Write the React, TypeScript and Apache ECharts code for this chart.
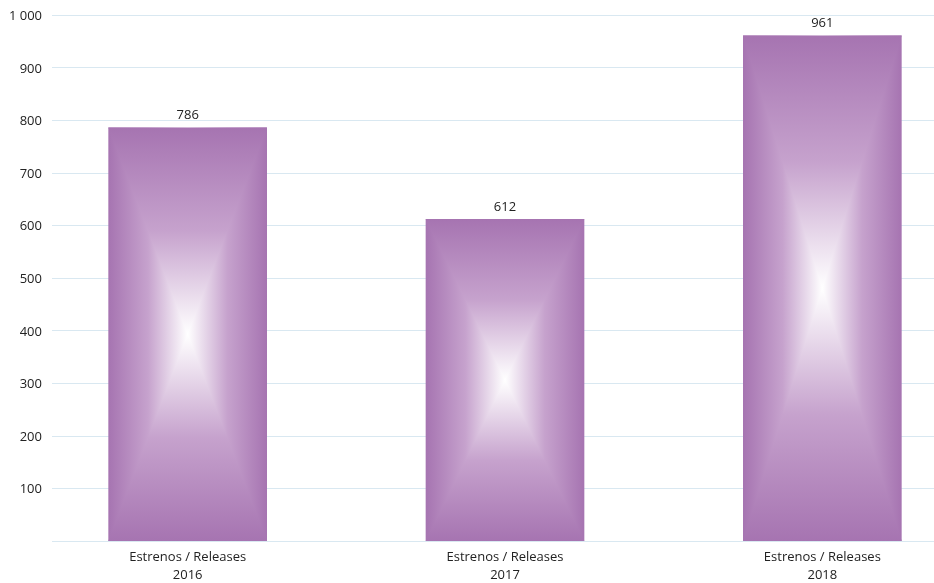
import React, { useEffect, useRef } from "react";
import * as echarts from "echarts";

const categories = ["Estrenos / Releases\n2016", "Estrenos / Releases\n2017", "Estrenos / Releases\n2018"];
const releases = [786, 612, 961];
const yTicks = [0, 100, 200, 300, 400, 500, 600, 700, 800, 900, 1000];

const EDGE = "#a674b1";
const MID = "#c6a2cd";
const CENTER = "#ffffff";

function grad(x2: number, y2: number, reverse: boolean) {
  const stops = reverse
    ? [
        { offset: 0, color: CENTER },
        { offset: 0.5, color: MID },
        { offset: 1, color: EDGE },
      ]
    : [
        { offset: 0, color: EDGE },
        { offset: 0.5, color: MID },
        { offset: 1, color: CENTER },
      ];
  return { type: "linear", x: 0, y: 0, x2, y2, colorStops: stops };
}

const horizGrad = {
  type: "linear",
  x: 0,
  y: 0,
  x2: 1,
  y2: 0,
  colorStops: [
    { offset: 0, color: EDGE },
    { offset: 0.25, color: MID },
    { offset: 0.5, color: CENTER },
    { offset: 0.75, color: MID },
    { offset: 1, color: EDGE },
  ],
};

export default function App() {
  const ref = useRef<HTMLDivElement>(null);
  useEffect(() => {
    document.body.style.margin = "0";
    const chart = echarts.init(ref.current!, null, { renderer: "svg" });
    const font = "'Open Sans', sans-serif";
    const option: any = {
      animation: false,
      grid: [
        { left: 52, right: 0, top: 15, bottom: 42, outerBoundsMode: "none", containLabel: false },
        { left: 29, width: 952, top: 15, bottom: 42, outerBoundsMode: "none", containLabel: false },
      ],
      xAxis: [
        { type: "category", gridIndex: 0, data: categories, show: false },
        {
          type: "category",
          gridIndex: 1,
          data: categories,
          axisLine: { show: false },
          axisTick: { show: false },
          axisLabel: {
            color: "#222",
            fontFamily: font,
            fontSize: 13,
            lineHeight: 18,
            margin: 6,
          },
        },
      ],
      yAxis: [
        {
          type: "value",
          gridIndex: 0,
          min: 0,
          max: 1000,
          interval: 100,
          axisLine: { show: false },
          axisTick: { show: false },
          splitLine: { lineStyle: { color: "#d9e8f1", width: 1 } },
          axisLabel: {
            color: "#222",
            fontFamily: font,
            fontSize: 13,
            margin: 10,
            formatter: (v: number) =>
              v === 0 ? "" : v >= 1000 ? String(v).replace(/\B(?=(\d{3})+(?!\d))/g, " ") : String(v),
          },
        },
        { type: "value", gridIndex: 1, min: 0, max: 1000, show: false },
      ],
      series: [
        {
          type: "custom",
          xAxisIndex: 1,
          yAxisIndex: 1,
          data: releases.map((v, i) => [i, v]),
          renderItem: (params: any, api: any) => {
            const idx = api.value(0);
            const val = api.value(1);
            const top = api.coord([idx, val]);
            const bot = api.coord([idx, 0]);
            const w = api.size([1, 0])[0] * 0.5;
            const l = top[0] - w / 2;
            const r = top[0] + w / 2;
            const t = top[1];
            const b = bot[1];
            const cx = top[0];
            const cy = (t + b) / 2;
            return {
              type: "group",
              children: [
                {
                  type: "rect",
                  shape: { x: l, y: t, width: r - l, height: b - t },
                  style: { fill: horizGrad },
                },
                {
                  type: "polygon",
                  shape: { points: [[l, t], [r, t], [cx, cy]] },
                  style: { fill: grad(0, 1, false) },
                },
                {
                  type: "polygon",
                  shape: { points: [[l, b], [r, b], [cx, cy]] },
                  style: { fill: grad(0, 1, true) },
                },
                {
                  type: "text",
                  x: cx,
                  y: t - 7,
                  style: {
                    text: String(val),
                    align: "center",
                    verticalAlign: "bottom",
                    fill: "#222",
                    font: "13px 'Open Sans', sans-serif",
                  },
                },
              ],
            };
          },
        },
      ],
    };
    chart.setOption(option);
    return () => chart.dispose();
  }, []);
  return <div ref={ref} style={{ position: "fixed", left: 0, top: 0, width: 934, height: 583 }} />;
}
